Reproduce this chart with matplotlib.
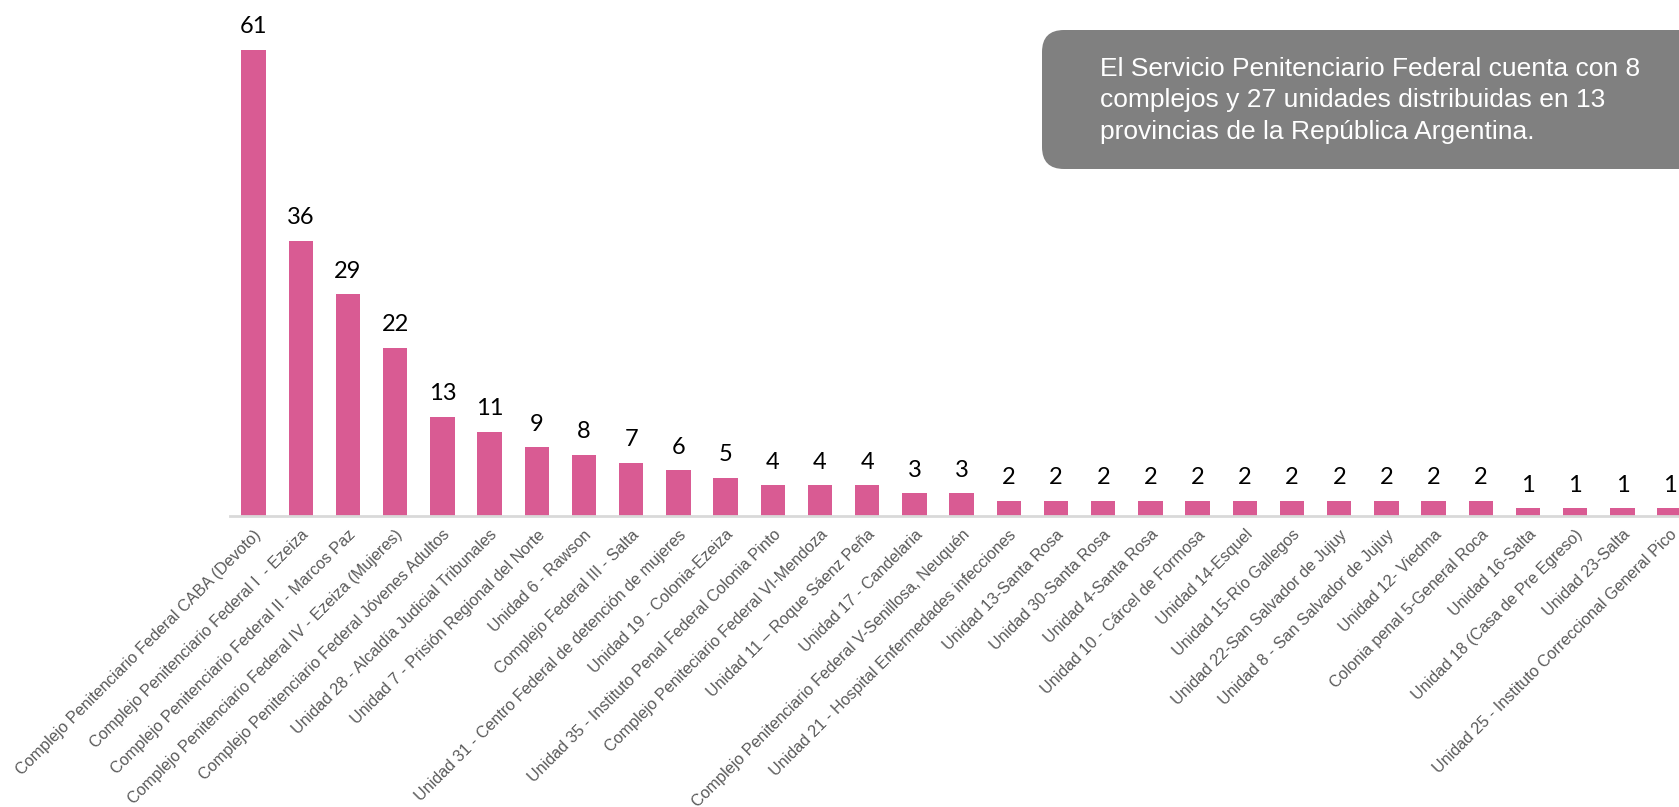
import matplotlib.pyplot as plt
from matplotlib.patches import FancyBboxPatch

# unidades del SPF y cantidad
unidades = [
    "Complejo Penitenciario Federal CABA (Devoto)",
    "Complejo Penitenciario Federal I  - Ezeiza",
    "Complejo Penitenciario Federal II - Marcos Paz",
    "Complejo Penitenciario Federal IV - Ezeiza (Mujeres)",
    "Complejo Penitenciario Federal Jóvenes Adultos",
    "Unidad 28 - Alcaldía Judicial Tribunales",
    "Unidad 7 - Prisión Regional del Norte",
    "Unidad 6 - Rawson",
    "Complejo Federal III - Salta",
    "Unidad 31 - Centro Federal de detención de mujeres",
    "Unidad 19 - Colonia-Ezeiza",
    "Unidad 35 - Instituto Penal Federal Colonia Pinto",
    "Complejo Peniteciario Federal VI-Mendoza",
    "Unidad 11 – Roque Sáenz Peña",
    "Unidad 17 - Candelaria",
    "Complejo Penitenciario Federal V-Senillosa, Neuquén",
    "Unidad 21 - Hospital Enfermedades infecciones",
    "Unidad 13-Santa Rosa",
    "Unidad 30-Santa Rosa",
    "Unidad 4-Santa Rosa",
    "Unidad 10 - Cárcel de Formosa",
    "Unidad 14-Esquel",
    "Unidad 15-Río Gallegos",
    "Unidad 22-San Salvador de Jujuy",
    "Unidad 8 - San Salvador de Jujuy",
    "Unidad 12- Viedma",
    "Colonia penal 5-General Roca",
    "Unidad 16-Salta",
    "Unidad 18 (Casa de Pre Egreso)",
    "Unidad 23-Salta",
    "Unidad 25 - Instituto Correccional General Pico",
]
valores = [61, 36, 29, 22, 13, 11, 9, 8, 7, 6, 5, 4, 4, 4, 3, 3,
           2, 2, 2, 2, 2, 2, 2, 2, 2, 2, 2, 1, 1, 1, 1]

nota = ("El Servicio Penitenciario Federal cuenta con 8\n"
        "complejos y 27 unidades distribuidas en 13\n"
        "provincias de la República Argentina.")

W, H = 1679, 807
fig = plt.figure(figsize=(W / 100, H / 100), dpi=100)

# axes: baseline at y=516px, first band starts at x=230px, 47.2 px per bar
left = 230 / W
width = 31 * 47.2 / W
bottom = (H - 516) / H
height = 65 * 7.64 / H
ax = fig.add_axes([left, bottom, width, height])

x = range(len(valores))
bars = ax.bar(x, valores, width=0.52, color="#D95B93")
ax.set_xlim(-0.5, len(valores) - 0.5)
ax.set_ylim(0, 65)

for b, v in zip(bars, valores):
    ax.annotate(str(v), (b.get_x() + b.get_width() / 2, v),
                xytext=(0, 9), textcoords="offset points",
                ha="center", va="bottom", fontsize=17,
                family="Lato", color="black")

ax.set_xticks(list(x))
ax.set_xticklabels(unidades, rotation=45, ha="right", rotation_mode="anchor",
                   fontsize=11.6, color="#595959", family="Liberation Sans")
ax.tick_params(axis="x", length=0, pad=8)
ax.set_yticks([])
for s in ["top", "right", "left"]:
    ax.spines[s].set_visible(False)
ax.spines["bottom"].set_color("#D9D9D9")
ax.spines["bottom"].set_linewidth(2)

# caja de texto gris con esquinas redondeadas (en pulgadas)
caja = FancyBboxPatch((1042 / 100, (H - 169) / 100), 7.0, 1.39,
                      boxstyle="round,pad=0,rounding_size=0.22",
                      transform=fig.dpi_scale_trans, facecolor="#808080",
                      edgecolor="none", clip_on=False)
fig.patches.append(caja)
fig.text(1100 / W, 1 - 57 / H, nota, ha="left", va="top", color="white",
         fontsize=19, family="Liberation Sans", linespacing=1.39)

fig.savefig("out.png", dpi=100)
